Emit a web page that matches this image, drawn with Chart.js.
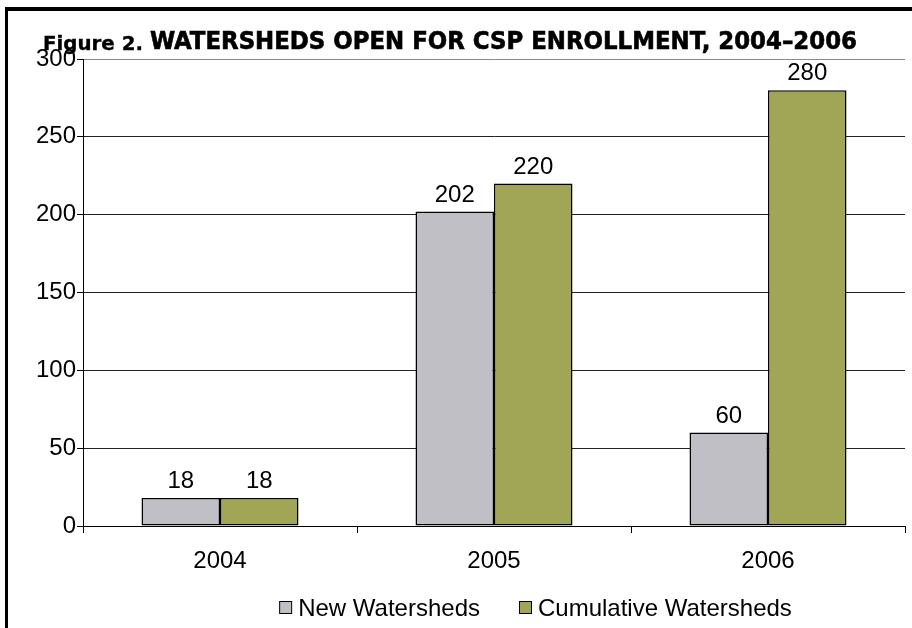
<!DOCTYPE html>
<html>
<head>
<meta charset="utf-8">
<script src="https://cdn.jsdelivr.net/npm/chart.js@4/dist/chart.umd.min.js"></script>
<style>
  html, body { margin: 0; padding: 0; background: #fff; }
  #wrap { position: relative; width: 912px; height: 628px; overflow: hidden; background: #fff; }
  #chart { position: absolute; left: 0; top: 0; }
  #frame { position: absolute; left: 5px; top: 7px; width: 1000px; height: 700px;
           border-left: 3px solid #000; border-top: 4px solid #000; box-sizing: border-box; pointer-events: none; }
  .tt { position: absolute; white-space: nowrap; font-weight: bold; line-height: 1; color: #000;
        font-family: "Liberation Sans Narrow", "DejaVu Sans Condensed", "Liberation Sans", sans-serif;
        transform-origin: 0 0; -webkit-text-stroke: 0.6px #000; }
  #fig { left: 43px; font-size: 20px; top: 33px; -webkit-text-stroke: 0.3px #000; }
  #main { left: 150px; font-size: 25.5px; top: 28.4px; }
</style>
</head>
<body>
<div id="wrap">
  <canvas id="chart" width="912" height="628"></canvas>
  <div id="frame"></div>
  <span class="tt" id="fig">Figure 2.</span>
  <span class="tt" id="main">WATERSHEDS OPEN FOR CSP ENROLLMENT, 2004–2006</span>
</div>
<script>
// ---- data ----
const categories = ["2004", "2005", "2006"];
const newWatersheds = [18, 202, 60];
const cumulativeWatersheds = [18, 220, 280];
const seriesNames = ["New Watersheds", "Cumulative Watersheds"];
const yTicks = [0, 50, 100, 150, 200, 250, 300];

// fit title spans to measured widths of the reference
function fitSpan(id, w) {
  const el = document.getElementById(id);
  const k = w / el.getBoundingClientRect().width;
  el.style.transform = "scaleX(" + k + ")";
}
fitSpan("fig", 100);
fitSpan("main", 707);

const FONT = "'Liberation Sans', Arial, sans-serif";

const valueLabels = {
  id: "valueLabels",
  afterDatasetsDraw(chart) {
    const ctx = chart.ctx;
    ctx.save();
    ctx.font = "24px " + FONT;
    ctx.fillStyle = "#000";
    ctx.textAlign = "center";
    ctx.textBaseline = "alphabetic";
    chart.data.datasets.forEach((ds, di) => {
      const meta = chart.getDatasetMeta(di);
      meta.data.forEach((el, i) => {
        ctx.fillText(String(ds.data[i]), el.x, el.y - 10);
      });
    });
    ctx.restore();
  }
};

const customLegend = {
  id: "customLegend",
  afterDraw(chart) {
    const ctx = chart.ctx;
    ctx.save();
    ctx.font = "24px " + FONT;
    ctx.textBaseline = "middle";
    ctx.textAlign = "left";
    const box = 12, gapText = 7, gapItem = 39;
    const items = chart.data.datasets.map(ds => ({ text: ds.label, fill: ds.backgroundColor, w: ctx.measureText(ds.label).width }));
    let total = 0;
    items.forEach((it, i) => { total += box + gapText + it.w + (i ? gapItem : 0); });
    let x = 535.5 - total / 2;
    const yc = 608;
    items.forEach(it => {
      ctx.fillStyle = it.fill;
      ctx.fillRect(x + 0.5, yc - 6.5, box, box);
      ctx.strokeStyle = "#000";
      ctx.lineWidth = 1;
      ctx.strokeRect(x + 0.5, yc - 6.5, box, box);
      ctx.fillStyle = "#000";
      ctx.fillText(it.text, x + box + gapText, yc + 1);
      x += box + gapText + it.w + gapItem;
    });
    ctx.restore();
  }
};

new Chart(document.getElementById("chart"), {
  type: "bar",
  data: {
    labels: categories,
    datasets: [
      { label: seriesNames[0], data: newWatersheds, backgroundColor: "#C0BFC6", borderColor: "#000", borderWidth: 1.5, borderSkipped: false },
      { label: seriesNames[1], data: cumulativeWatersheds, backgroundColor: "#A1A556", borderColor: "#000", borderWidth: 1.5, borderSkipped: false }
    ]
  },
  options: {
    responsive: false,
    animation: false,
    devicePixelRatio: 1,
    layout: { padding: { top: 59, right: 7, bottom: 0, left: 0 } },
    datasets: { bar: { categoryPercentage: 0.573, barPercentage: 1.0 } },
    plugins: {
      legend: { display: false },
      title: { display: false },
      tooltip: { enabled: false }
    },
    scales: {
      x: {
        afterFit(scale) { scale.height = 102; },
        grid: { offset: true, drawOnChartArea: false, drawTicks: true, tickLength: 7,
                tickColor: (c) => (c.index === 3 ? "rgba(0,0,0,0)" : "#000") },
        border: { display: true, color: "#000", width: 1 },
        ticks: { color: "#000", font: { family: FONT, size: 24 }, padding: 14 }
      },
      y: {
        min: 0, max: 300,
        afterFit(scale) { scale.width = 83; },
        afterBuildTicks(scale) { scale.ticks = yTicks.map(v => ({ value: v })); },
        grid: { color: (c) => (c.tick && c.tick.value === 300 ? "#8a8a8a" : "#222"), tickColor: "#000", tickLength: 6, drawTicks: true },
        border: { display: true, color: "#000", width: 1 },
        ticks: { color: "#000", font: { family: FONT, size: 24 }, padding: 1 }
      }
    }
  },
  plugins: [valueLabels, customLegend]
});
</script>
</body>
</html>
